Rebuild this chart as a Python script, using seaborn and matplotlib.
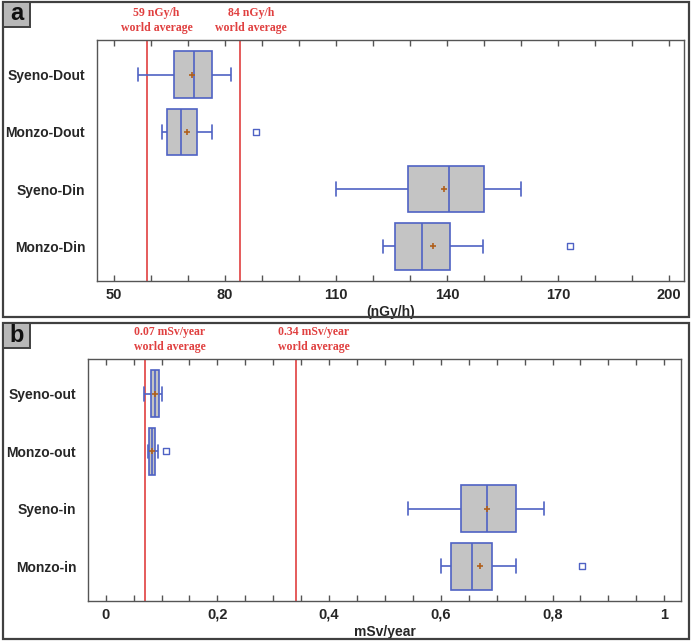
import matplotlib
matplotlib.use('Agg')

import numpy as np
import pandas as pd
import matplotlib.pyplot as plt
from matplotlib.patches import Rectangle
from matplotlib.ticker import MultipleLocator
import seaborn as sns

# ========== DATA ==========
# panel a : absorbed dose rate (nGy/h)
groups_a = ['Syeno-Dout', 'Monzo-Dout', 'Syeno-Din', 'Monzo-Din']
lo_a = [56.5, 63.0, 110.0, 122.6]
q1_a = [66.2, 64.3, 129.4, 125.8]
med_a = [71.7, 68.2, 140.5, 133.2]
q3_a = [76.6, 72.3, 149.9, 140.9]
hi_a = [81.6, 76.5, 160.0, 149.6]
mean_a = [71.1, 69.6, 139.2, 136.2]
out_grp_a = ['Monzo-Dout', 'Monzo-Din']
out_val_a = [88.4, 173.3]
ref_a = [59, 84]
ref_txt_a = ['59 nGy/h\nworld average', '84 nGy/h\nworld average']
ticks_a = [50, 80, 110, 140, 170, 200]
ticklabels_a = ['50', '80', '110', '140', '170', '200']

# panel b : annual effective dose (mSv/year)
groups_b = ['Syeno-out', 'Monzo-out', 'Syeno-in', 'Monzo-in']
lo_b = [0.069, 0.076, 0.541, 0.601]
q1_b = [0.081, 0.0775, 0.637, 0.618]
med_b = [0.088, 0.082, 0.682, 0.655]
q3_b = [0.095, 0.0877, 0.735, 0.692]
hi_b = [0.101, 0.094, 0.785, 0.735]
mean_b = [0.088, 0.083, 0.682, 0.670]
out_grp_b = ['Monzo-out', 'Monzo-in']
out_val_b = [0.108, 0.852]
ref_b = [0.07, 0.34]
ref_txt_b = ['0.07 mSv/year\nworld average', '0.34 mSv/year\nworld average']
ticks_b = [0, 0.2, 0.4, 0.6, 0.8, 1.0]
ticklabels_b = ['0', '0,2', '0,4', '0,6', '0,8', '1']

# ========== STYLE ==========
sns.set_style("ticks")
plt.rcParams['font.family'] = ['Liberation Sans', 'DejaVu Sans']

BOX_FILL = '#c4c4c4'
BOX_EDGE = '#4f62c4'
RED = '#e04040'
MEAN_COL = '#b0601c'
SPINE = '#555555'

W, H = 692, 641
fig = plt.figure(figsize=(W / 100, H / 100), dpi=100)


def px_axes(left, top, right, bottom):
    return fig.add_axes([left / W, 1 - bottom / H, (right - left) / W, (bottom - top) / H])


def draw_panel(ax, groups, lo, q1, med, q3, hi, means, out_grp, out_val,
               refs, ref_txt, ref_dx, xlim, ticks, ticklabels, minor, xlabel):
    # each box is built from its five-number summary
    rows = []
    for g, vals in zip(groups, zip(lo, q1, med, q3, hi)):
        for v in vals:
            rows.append((g, v))
    df = pd.DataFrame(rows, columns=['group', 'value'])

    sns.boxplot(data=df, x='value', y='group', order=groups, orient='h',
                color=BOX_FILL, saturation=1, linecolor=BOX_EDGE, linewidth=1.2,
                width=0.82, whis=(0, 100), fliersize=0, capwidths=0.23, ax=ax)

    pos = {g: i for i, g in enumerate(groups)}
    sns.scatterplot(x=means, y=[pos[g] for g in groups], marker='+', s=22,
                    color=MEAN_COL, linewidth=1.2, zorder=5, ax=ax)
    sns.scatterplot(x=out_val, y=[pos[g] for g in out_grp], marker='s', s=14,
                    facecolor='white', edgecolor=BOX_EDGE, linewidth=1.0,
                    zorder=5, ax=ax)

    for r, t, dx in zip(refs, ref_txt, ref_dx):
        ax.axvline(r, color=RED, lw=1.2, zorder=1)
        ax.text(r + dx, 1.025, t, transform=ax.get_xaxis_transform(),
                ha='center', va='bottom', color=RED, fontsize=8.5,
                fontweight='bold', family='Liberation Serif', linespacing=1.3)

    ax.set_xlim(*xlim)
    ax.set_ylim(3.61, -0.61)
    ax.set_xticks(ticks)
    ax.set_xticklabels(ticklabels)
    ax.xaxis.set_minor_locator(MultipleLocator(minor))
    ax.tick_params(axis='x', which='both', direction='in', top=True,
                   length=4, width=1, color=SPINE, pad=5)
    ax.tick_params(axis='y', length=0, pad=8.5)
    for lab in ax.get_xticklabels():
        lab.set_fontweight('bold')
        lab.set_fontsize(10.5)
    for lab in ax.get_yticklabels():
        lab.set_fontweight('bold')
        lab.set_fontsize(10)
    ax.set_ylabel('')
    ax.set_xlabel(xlabel, fontsize=10, fontweight='bold', labelpad=2)
    for s in ax.spines.values():
        s.set_visible(True)
        s.set_color(SPINE)
        s.set_linewidth(1.0)


ax_a = px_axes(97, 40, 684, 281)
draw_panel(ax_a, groups_a, lo_a, q1_a, med_a, q3_a, hi_a, mean_a,
           out_grp_a, out_val_a, ref_a, ref_txt_a, [2.5, 3.0],
           (45.4, 204), ticks_a, ticklabels_a, 10, '(nGy/h)')

ax_b = px_axes(88, 359, 681, 601)
draw_panel(ax_b, groups_b, lo_b, q1_b, med_b, q3_b, hi_b, mean_b,
           out_grp_b, out_val_b, ref_b, ref_txt_b, [0.045, 0.032],
           (-0.0317, 1.030), ticks_b, ticklabels_b, 0.05, 'mSv/year')

# ========== PANEL FRAMES AND LETTERS ==========
for top, bottom, letter in [(2, 317, 'a'), (323, 639, 'b')]:
    fig.add_artist(Rectangle((3 / W, 1 - bottom / H), 686 / W, (bottom - top) / H,
                             transform=fig.transFigure, fill=False,
                             edgecolor='#404040', lw=1.6))
    fig.add_artist(Rectangle((3 / W, 1 - (top + 25) / H), 27 / W, 25 / H,
                             transform=fig.transFigure, facecolor='#b8b8b8',
                             edgecolor='#404040', lw=1.4))
    fig.text(16.5 / W, 1 - (top + 12) / H, letter, fontsize=17, fontweight='bold',
             ha='center', va='center', color='#111111')

fig.savefig('out.png', dpi=100)
